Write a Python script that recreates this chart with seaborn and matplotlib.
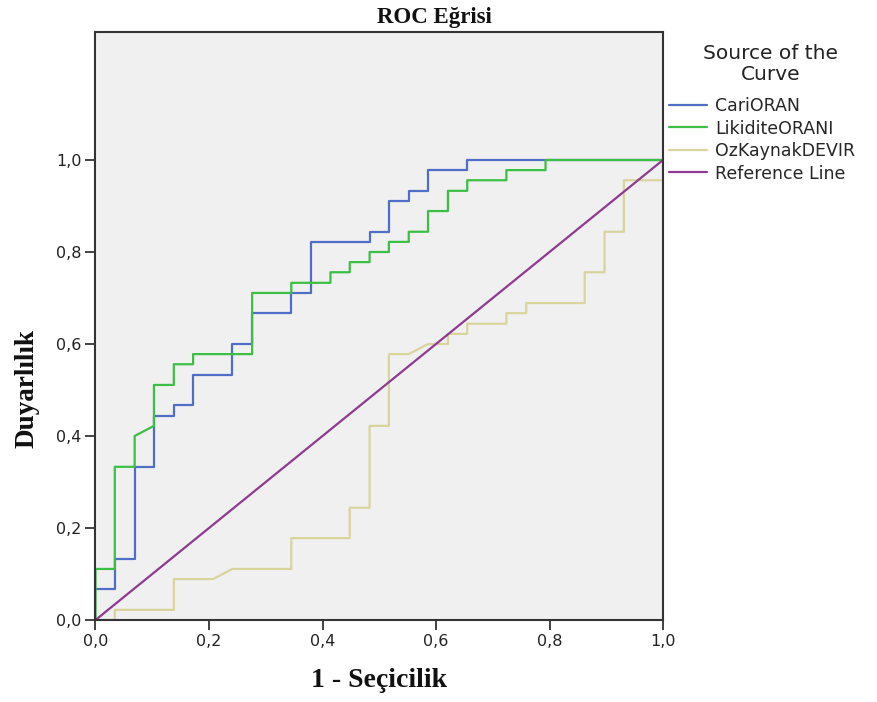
import matplotlib
matplotlib.use("Agg")
import matplotlib.pyplot as plt
from matplotlib.ticker import FuncFormatter
from matplotlib.lines import Line2D
import seaborn as sns
import pandas as pd

# ---- data (ROC vertices) ----
curve_names = ["CariORAN", "LikiditeORANI", "OzKaynakDEVIR", "Reference Line"]

cari_fpr = [0, 0, 0.034, 0.034, 0.069, 0.069, 0.103, 0.103, 0.138, 0.138, 0.172, 0.172,
            0.241, 0.241, 0.276, 0.276, 0.345, 0.345, 0.379, 0.379, 0.483, 0.483, 0.517,
            0.517, 0.552, 0.552, 0.586, 0.586, 0.655, 0.655, 1.0]
cari_tpr = [0, 0.067, 0.067, 0.133, 0.133, 0.333, 0.333, 0.444, 0.444, 0.467, 0.467, 0.533,
            0.533, 0.600, 0.600, 0.667, 0.667, 0.711, 0.711, 0.822, 0.822, 0.844, 0.844,
            0.911, 0.911, 0.933, 0.933, 0.978, 0.978, 1.0, 1.0]

likidite_fpr = [0, 0, 0.034, 0.034, 0.069, 0.069, 0.103, 0.103, 0.138, 0.138, 0.172, 0.172,
                0.276, 0.276, 0.345, 0.345, 0.414, 0.414, 0.448, 0.448, 0.483, 0.483, 0.517,
                0.517, 0.552, 0.552, 0.586, 0.586, 0.621, 0.621, 0.655, 0.655, 0.724, 0.724,
                0.793, 0.793, 1.0]
likidite_tpr = [0, 0.111, 0.111, 0.333, 0.333, 0.400, 0.422, 0.511, 0.511, 0.556, 0.556, 0.578,
                0.578, 0.711, 0.711, 0.733, 0.733, 0.756, 0.756, 0.778, 0.778, 0.800, 0.800,
                0.822, 0.822, 0.844, 0.844, 0.889, 0.889, 0.933, 0.933, 0.956, 0.956, 0.978,
                0.978, 1.0, 1.0]

ozkaynak_fpr = [0, 0.034, 0.034, 0.138, 0.138, 0.207, 0.241, 0.345, 0.345, 0.448, 0.448, 0.483,
                0.483, 0.517, 0.517, 0.552, 0.586, 0.621, 0.621, 0.655, 0.655, 0.724, 0.724,
                0.759, 0.759, 0.862, 0.862, 0.897, 0.897, 0.931, 0.931, 1.0, 1.0]
ozkaynak_tpr = [0, 0, 0.022, 0.022, 0.089, 0.089, 0.111, 0.111, 0.178, 0.178, 0.244, 0.244,
                0.422, 0.422, 0.578, 0.578, 0.600, 0.600, 0.622, 0.622, 0.644, 0.644, 0.667,
                0.667, 0.689, 0.689, 0.756, 0.756, 0.844, 0.844, 0.956, 0.956, 1.0]

ref_fpr = [0, 1.0]
ref_tpr = [0, 1.0]

tick_values = [0.0, 0.2, 0.4, 0.6, 0.8, 1.0]

colors = ["#4f6fc7", "#3dbf45", "#d9d49c", "#8e3a91"]

# ---- build table ----
frames = []
for name, fx, ty in zip(curve_names,
                        [cari_fpr, likidite_fpr, ozkaynak_fpr, ref_fpr],
                        [cari_tpr, likidite_tpr, ozkaynak_tpr, ref_tpr]):
    frames.append(pd.DataFrame({"fpr": fx, "tpr": ty, "curve": name}))
df = pd.concat(frames, ignore_index=True)

sns.set_style("white")
plt.rcParams["font.family"] = ["DejaVu Sans"]

W, H = 878, 702
fig = plt.figure(figsize=(W / 100, H / 100), dpi=100)
ax = fig.add_axes([95.5 / W, (H - 620) / H, (663 - 95.5) / W, (620 - 32) / H])
ax.set_facecolor("#f0f0f0")

sns.lineplot(data=df, x="fpr", y="tpr", hue="curve", hue_order=curve_names,
             palette=colors, sort=False, estimator=None, legend=False,
             linewidth=1.6, ax=ax)

ax.set_xlim(0, 1.0)
ax.set_ylim(0, (620 - 32) / 460)
ax.set_xticks(tick_values)
ax.set_yticks(tick_values)
fmt = FuncFormatter(lambda v, p: f"{v:.1f}".replace(".", ","))
ax.xaxis.set_major_formatter(fmt)
ax.yaxis.set_major_formatter(fmt)
ax.tick_params(axis="both", which="major", direction="out", length=7, width=1.3,
               color="#333333", labelsize=11.5, labelcolor="#222222", pad=3,
               bottom=True, left=True)

for s in ax.spines.values():
    s.set_color("#333333")
    s.set_linewidth(1.5)

serif = ["Liberation Serif", "DejaVu Serif"]
ax.set_xlabel("1 - Seçicilik", family=serif, fontweight="bold", fontsize=20,
              labelpad=14, color="#111111")
ax.set_ylabel("Duyarlılık", family=serif, fontweight="bold", fontsize=19.5,
              color="#111111")
ax.yaxis.set_label_coords((40 - 95.5) / (663 - 95.5), (620 - 388) / (620 - 32))
fig.text(434 / W, 1 - 17 / H, "ROC Eğrisi", family=serif, fontweight="bold",
         fontsize=16.5, ha="center", va="center", color="#111111")

# legend title drawn as text, entries as legend
fig.text(771 / W, 1 - 64 / H, "Source of the\nCurve", fontsize=14.5,
         ha="center", va="center", multialignment="center", color="#222222",
         linespacing=1.15)
handles = [Line2D([], [], color=c, linewidth=1.6) for c in colors]
leg = fig.legend(handles, curve_names,
                 loc="upper left", bbox_to_anchor=(669 / W, 1 - 97 / H),
                 frameon=False, fontsize=12.5,
                 handlelength=2.2, handletextpad=0.45, labelspacing=0.26,
                 borderpad=0, borderaxespad=0)

fig.savefig("out.png", dpi=100)
